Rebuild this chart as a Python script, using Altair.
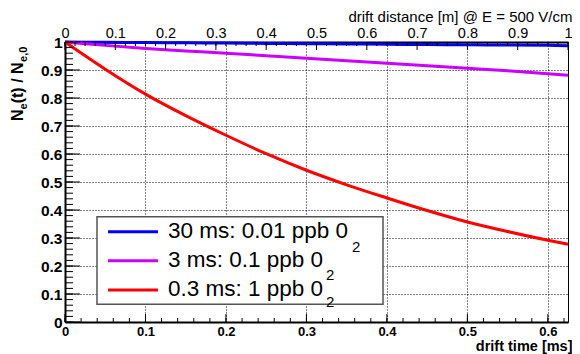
import altair as alt
import pandas as pd

FONT = "Liberation Sans"
W, H = 503, 280

# ---- data ----
t_ms = [0, 0.05, 0.1, 0.15, 0.2, 0.25, 0.3, 0.35, 0.4, 0.45, 0.5, 0.55, 0.6, 0.625]
n_30ms = [1.0, 0.999, 0.998, 0.997, 0.996, 0.995, 0.994, 0.993, 0.992, 0.991, 0.990, 0.989, 0.988, 0.987]
n_3ms = [1.0, 0.988, 0.977, 0.968, 0.960, 0.951, 0.942, 0.933, 0.924, 0.915, 0.906, 0.897, 0.887, 0.881]
n_03ms = [1.0, 0.903, 0.814, 0.737, 0.667, 0.601, 0.542, 0.490, 0.443, 0.398, 0.357, 0.323, 0.292, 0.278]

series_labels = ["30 ms: 0.01 ppb 0", "3 ms: 0.1 ppb 0", "0.3 ms: 1 ppb 0"]
series_sub = ["2", "2", "2"]
series_colors = ["#0000ff", "#cc00ff", "#ff0000"]

x_major = [0, 0.1, 0.2, 0.3, 0.4, 0.5, 0.6]
x_minor = [round(i * 0.02, 2) for i in range(32)]
y_major = [0, 0.1, 0.2, 0.3, 0.4, 0.5, 0.6, 0.7, 0.8, 0.9, 1.0]
y_minor = [round(i * 0.02, 2) for i in range(51)]
d_major = [0, 0.1, 0.2, 0.3, 0.4, 0.5, 0.6, 0.7, 0.8, 0.9, 1.0]
d_minor = [round(i * 0.02, 2) for i in range(51)]

rows = []
for lab, vals in zip(series_labels, [n_30ms, n_3ms, n_03ms]):
    for t, v in zip(t_ms, vals):
        rows.append({"t": t, "v": v, "s": lab})
df = pd.DataFrame(rows)

xs = alt.Scale(domain=[0, 0.625], nice=False, zero=False)
ys = alt.Scale(domain=[0, 1], nice=False, zero=False)
ds = alt.Scale(domain=[0, 1], nice=False, zero=False)

x_axis = alt.Axis(
    orient="bottom", values=x_major, format=".1~f", labelFont=FONT,
    labelFontWeight="bold", labelFontSize=13, labelColor="black", labelPadding=3,
    labelFlush=False, ticks=False, domainColor="black", domainWidth=2,
    grid=True, gridColor="black", gridDash=[1, 2], gridWidth=1, gridOpacity=1,
    title="drift time [ms]", titleFont=FONT, titleFontWeight="bold",
    titleFontSize=14.5, titleColor="black", titleAlign="right",
    titleX=W + 4, titleY=28.5, titleBaseline="alphabetic",
)
y_axis = alt.Axis(
    values=y_major, format=".1~f", labelFont=FONT, labelFontWeight="bold",
    labelFontSize=15.5, labelColor="black", labelPadding=3, labelFlush=False,
    ticks=False, domainColor="black", domainWidth=2,
    grid=True, gridColor="black", gridDash=[1, 2], gridWidth=1, gridOpacity=1,
    title=None,
)

curves = alt.Chart(df).mark_line(strokeWidth=3, interpolate="monotone").encode(
    x=alt.X("t:Q", scale=xs, axis=x_axis),
    y=alt.Y("v:Q", scale=ys, axis=y_axis),
    color=alt.Color("s:N", scale=alt.Scale(domain=series_labels, range=series_colors), legend=None),
)

bx_major = alt.Chart(pd.DataFrame({"t": x_major})).mark_rule(color="black").encode(
    x=alt.X("t:Q", scale=xs, axis=x_axis), y=alt.value(H), y2=alt.value(H - 8))
bx_minor = alt.Chart(pd.DataFrame({"t": x_minor})).mark_rule(color="black").encode(
    x=alt.X("t:Q", scale=xs, axis=x_axis), y=alt.value(H), y2=alt.value(H - 4))
ly_major = alt.Chart(pd.DataFrame({"v": y_major})).mark_rule(color="black").encode(
    y=alt.Y("v:Q", scale=ys, axis=y_axis), x=alt.value(0), x2=alt.value(15))
ly_minor = alt.Chart(pd.DataFrame({"v": y_minor})).mark_rule(color="black").encode(
    y=alt.Y("v:Q", scale=ys, axis=y_axis), x=alt.value(0), x2=alt.value(8))

# y-axis title pieces (rotated)
title_parts = [
    ("N", 16, -42, 79),
    ("e", 11, -38.5, 67.4),
    ("(t) / N", 16, -42, 61.3),
    ("e,0", 11, -38.5, 19.9),
]
ytitle = []
for txt, fs, px, py in title_parts:
    ytitle.append(
        alt.Chart(pd.DataFrame({"txt": [txt]})).mark_text(
            font=FONT, fontWeight="bold", fontSize=fs, angle=270, align="left",
            baseline="alphabetic", color="black",
        ).encode(text="txt:N", x=alt.value(px), y=alt.value(py))
    )

# legend
leg_box = alt.Chart(pd.DataFrame({"a": [0]})).mark_rect(
    fill="white", stroke="#555555", strokeWidth=1.5
).encode(x=alt.value(32), x2=alt.value(318), y=alt.value(174.7), y2=alt.value(262.3))

leg_layers = [leg_box]
sample_y = [189.7, 218.7, 248]
text_base = [196, 225, 254]
sub_base = [210, 238, 265]
sub_x = [287, 261, 261]
for i, lab in enumerate(series_labels):
    leg_layers.append(
        alt.Chart(pd.DataFrame({"s": [lab]})).mark_rule(strokeWidth=3).encode(
            x=alt.value(43), x2=alt.value(93), y=alt.value(sample_y[i]),
            color=alt.Color("s:N", scale=alt.Scale(domain=series_labels, range=series_colors), legend=None),
        )
    )
    leg_layers.append(
        alt.Chart(pd.DataFrame({"s": [lab]})).mark_text(
            font=FONT, fontSize=22.5, align="left", baseline="alphabetic", color="black"
        ).encode(text="s:N", x=alt.value(103), y=alt.value(text_base[i]))
    )
    leg_layers.append(
        alt.Chart(pd.DataFrame({"s": [series_sub[i]]})).mark_text(
            font=FONT, fontSize=15, align="left", baseline="alphabetic", color="black"
        ).encode(text="s:N", x=alt.value(sub_x[i]), y=alt.value(sub_base[i]))
    )

main = alt.layer(curves, bx_major, bx_minor, ly_major, ly_minor, *ytitle, *leg_layers)

top_axis = alt.Axis(
    orient="top", values=d_major, format=".1~f", labelFont=FONT, labelFontSize=14.5,
    labelColor="black", labelPadding=2, labelFlush=False, ticks=False,
    domainColor="black", domainWidth=2, grid=False,
    title="drift distance [m] @ E = 500 V/cm", titleFont=FONT, titleFontSize=15,
    titleFontWeight="normal", titleColor="black", titleAlign="right",
    titleX=W + 4, titleY=-21, titleBaseline="alphabetic",
)
top_major = alt.Chart(pd.DataFrame({"d": d_major})).mark_rule(color="black").encode(
    x=alt.X("d:Q", scale=ds, axis=top_axis), y=alt.value(0), y2=alt.value(8))
top_minor = alt.Chart(pd.DataFrame({"d": d_minor})).mark_rule(color="black").encode(
    x=alt.X("d:Q", scale=ds, axis=top_axis), y=alt.value(0), y2=alt.value(4))
top = alt.layer(top_major, top_minor)

chart = alt.layer(main, top).resolve_scale(x="independent").properties(
    width=W, height=H,
    padding={"left": 57, "top": 34, "right": 4, "bottom": 32},
    autosize=alt.AutoSizeParams(type="none"),
    background="white",
).configure_view(stroke="black", strokeWidth=1)

chart.save("out.html", embed_options={"renderer": "svg", "actions": False})
